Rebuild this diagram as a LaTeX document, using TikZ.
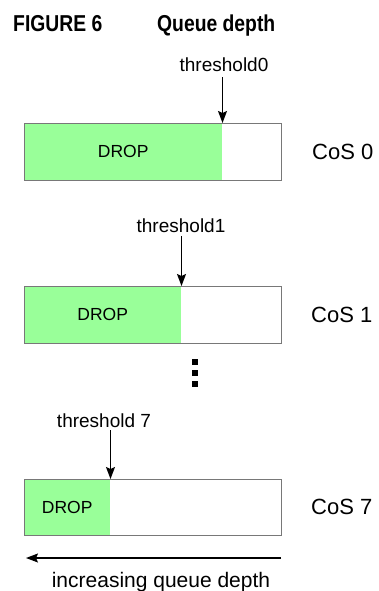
\documentclass[tikz,border=0pt]{standalone}
\usepackage{fontspec}
\setmainfont{Liberation Sans}
\newfontfamily\titlefont[FakeStretch=0.84]{Liberation Sans}
\usetikzlibrary{arrows.meta}
\definecolor{dropgreen}{RGB}{153,255,153}
\definecolor{boxgray}{RGB}{120,120,120}
\tikzset{
  qbox/.style={draw=boxgray, line width=0.9pt, fill=none, minimum width=257pt, minimum height=57pt, inner sep=0pt, anchor=north west},
  gbox/.style={fill=dropgreen, draw=none, minimum height=57pt, inner sep=0pt, anchor=north west},
  droplbl/.style={font=\fontsize{17.5}{20}\selectfont, inner sep=0pt},
  coslbl/.style={font=\fontsize{22}{26}\selectfont, inner sep=0pt, anchor=west},
  thlbl/.style={font=\fontsize{19}{22}\selectfont, inner sep=0pt, anchor=base},
  arr/.style={-{Stealth[length=12pt,width=9pt,inset=2pt]}, line width=1.3pt, black},
  dotsq/.style={fill=black, draw=none, minimum size=6pt, inner sep=0pt},
  titletxt/.style={font=\titlefont\bfseries\fontsize{23}{26}\selectfont, inner sep=0pt, anchor=base west}
}
\begin{document}
\begin{tikzpicture}[x=1pt,y=-1pt]
\useasboundingbox (0,0) rectangle (379,591);
% title
\node[titletxt] (fig) at (13,32) {FIGURE 6};
\node[titletxt] (ttl) at (157,32) {Queue depth};
% CoS 0
\node[gbox, minimum width=198pt] (g0) at (24,123) {};
\node[qbox] (b0) at (24,123) {};
\node[droplbl] (d0) at (g0.center) {DROP};
\node[coslbl] (c0) at (312,151.5) {CoS 0};
\node[thlbl] (th0) at (224,72) {threshold0};
\coordinate (t0) at (222.5,123);
\draw[arr] ([yshift=-5pt]th0.south -| t0) -- (t0);
% CoS 1
\node[gbox, minimum width=157pt] (g1) at (24,286) {};
\node[qbox] (b1) at (24,286) {};
\node[droplbl] (d1) at (g1.center) {DROP};
\node[coslbl] (c1) at (311,314.5) {CoS 1};
\node[thlbl] (th1) at (181,232) {threshold1};
\coordinate (t1) at (181.5,286);
\draw[arr] ([yshift=-4pt]th1.south -| t1) -- (t1);
% dots
\node[dotsq] (v1) at (195,362) {};
\node[dotsq] (v2) at (195,373) {};
\node[dotsq] (v3) at (195,384) {};
% CoS 7
\node[gbox, minimum width=86pt, minimum height=56pt] (g7) at (24,479) {};
\node[qbox, minimum height=56pt] (b7) at (24,479) {};
\node[droplbl] (d7) at (g7.center) {DROP};
\node[coslbl] (c7) at (311,507) {CoS 7};
\node[thlbl] (th7) at (104,427) {threshold 7};
\coordinate (t7) at (110.5,479);
\draw[arr] ([yshift=-3pt]th7.south -| t7) -- (t7);
% bottom arrow
\coordinate (a1) at (281,558);
\coordinate (a2) at (26,558);
\draw[arr] (a1) -- (a2);
\node[font=\fontsize{21}{24}\selectfont, inner sep=0pt, anchor=base] (inc) at (161,587) {increasing queue depth};
\end{tikzpicture}
\end{document}
